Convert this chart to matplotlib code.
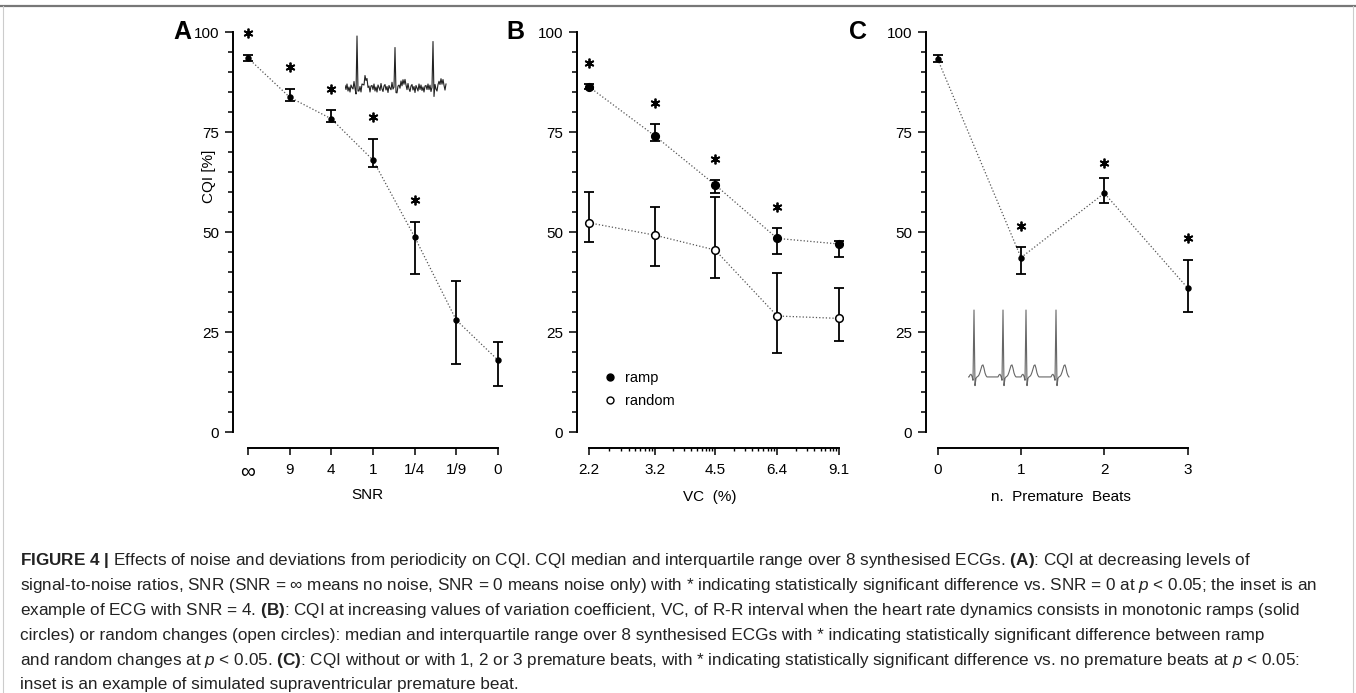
import numpy as np
import matplotlib
matplotlib.use("Agg")
import matplotlib.pyplot as plt
from matplotlib.lines import Line2D
from matplotlib.ticker import FixedLocator, MultipleLocator, NullFormatter

plt.rcParams["font.family"] = ["Liberation Sans", "DejaVu Sans"]
plt.rcParams["mathtext.fontset"] = "custom"
plt.rcParams["mathtext.rm"] = "Liberation Sans"
plt.rcParams["mathtext.bf"] = "Liberation Sans:bold"
plt.rcParams["mathtext.it"] = "Liberation Sans:italic"

# ── data (median, quartiles, asterisk height) ──────────────────────
snr_labels = ["∞", "9", "4", "1", "1/4", "1/9", "0"]
snr_med = [93.5, 83.7, 78.3, 68.0, 48.8, 28.0, 18.0]
snr_lo = [92.7, 82.8, 77.4, 66.3, 39.4, 16.9, 11.6]
snr_hi = [94.2, 85.7, 80.4, 73.3, 52.6, 37.8, 22.6]
snr_star = [99.7, 91.2, 85.7, 78.7, 58.0, np.nan, np.nan]

vc = [2.2, 3.2, 4.5, 6.4, 9.1]
vc_labels = ["2.2", "3.2", "4.5", "6.4", "9.1"]
ramp_med = [86.3, 74.0, 61.8, 48.4, 47.0]
ramp_lo = [85.7, 72.7, 59.8, 44.5, 43.8]
ramp_hi = [87.0, 76.9, 63.0, 50.9, 47.8]
random_med = [52.3, 49.2, 45.5, 29.0, 28.4]
random_lo = [47.4, 41.6, 38.4, 19.8, 22.8]
random_hi = [60.1, 56.3, 58.8, 39.8, 35.9]
vc_star = [92.2, 82.2, 68.3, 56.3, np.nan]

pb = [0, 1, 2, 3]
pb_labels = ["0", "1", "2", "3"]
pb_med = [93.2, 43.6, 59.7, 36.0]
pb_lo = [92.5, 39.5, 57.2, 30.0]
pb_hi = [94.2, 46.2, 63.4, 43.0]
pb_star = [np.nan, 51.5, 67.3, 48.5]

# inset ECG: one beat template (R wave at index 5), beat positions, noise
ecg_beat = [0, 0.03, 0.04, 0.01, -0.05, 1.0, -0.13, -0.02, 0, 0.01,
            0.03, 0.07, 0.12, 0.17, 0.18, 0.13, 0.06, 0.02, 0, 0]
ecg_a_r = [12, 50, 88]
ecg_a_amp = [1.0, 0.86, 0.92]
ecg_a_noise = [0.05, -0.03, 0.08, -0.06, 0.02, -0.08, 0.06, 0.01, -0.05,
               0.09, -0.02, -0.07, 0.04, 0.07, -0.04, 0.03, -0.09, 0.05,
               0.0, -0.06, 0.08, -0.03, 0.06, -0.05, 0.02, -0.08, 0.04]
ecg_c_r = [6, 35, 58, 88]
ecg_c_amp = [1.0, 1.0, 1.0, 1.0]

caption = [
    r"$\mathbf{FIGURE\ 4\ |}$ Effects of noise and deviations from periodicity on CQI. CQI median and interquartile range over 8 synthesised ECGs. $\mathbf{(A)}$: CQI at decreasing levels of",
    r"signal-to-noise ratios, SNR (SNR = ∞ means no noise, SNR = 0 means noise only) with * indicating statistically significant difference vs. SNR = 0 at $\mathit{p}$ < 0.05; the inset is an",
    r"example of ECG with SNR = 4. $\mathbf{(B)}$: CQI at increasing values of variation coefficient, VC, of R-R interval when the heart rate dynamics consists in monotonic ramps (solid",
    r"circles) or random changes (open circles): median and interquartile range over 8 synthesised ECGs with * indicating statistically significant difference between ramp",
    r"and random changes at $\mathit{p}$ < 0.05. $\mathbf{(C)}$: CQI without or with 1, 2 or 3 premature beats, with * indicating statistically significant difference vs. no premature beats at $\mathit{p}$ < 0.05:",
    r"inset is an example of simulated supraventricular premature beat.",
]

W, H = 1356, 693
fig = plt.figure(figsize=(W / 100, H / 100), dpi=100)


def px_axes(x0, y0, x1, y1):
    """axes from pixel box (y measured from top)."""
    return fig.add_axes([x0 / W, 1 - y1 / H, (x1 - x0) / W, (y1 - y0) / H])


def style(ax, xb):
    for s in ("top", "right"):
        ax.spines[s].set_visible(False)
    ax.spines["left"].set_linewidth(1.4)
    ax.spines["bottom"].set_linewidth(1.4)
    ax.spines["bottom"].set_position(("outward", 11.5))
    ax.spines["left"].set_bounds(0, 100)
    ax.spines["bottom"].set_bounds(*xb)
    ax.set_ylim(0, 100)
    ax.yaxis.set_major_locator(FixedLocator([0, 25, 50, 75, 100]))
    ax.yaxis.set_minor_locator(MultipleLocator(5))
    ax.tick_params(axis="y", which="major", length=6, width=1.1, labelsize=11, pad=4)
    ax.tick_params(axis="y", which="minor", length=3.6, width=1.1)
    ax.tick_params(axis="x", which="major", length=5, width=1.1, labelsize=11, pad=6)
    ax.tick_params(axis="x", which="minor", length=2.5, width=1.0)


def draw_series(ax, x, med, lo, hi, face, ms, ls=":"):
    med = np.array(med)
    yerr = [med - np.array(lo), np.array(hi) - med]
    ax.plot(x, med, linestyle=ls, color="#555555", linewidth=0.9, zorder=2)
    ax.errorbar(x, med, yerr=yerr, fmt="none", ecolor="black", elinewidth=1.3,
                capsize=3.6, capthick=1.3, zorder=3)
    ax.plot(x, med, "o", markerfacecolor=face, markeredgecolor="black",
            markeredgewidth=1.1, markersize=ms, linestyle="none", zorder=4)


def draw_stars(ax, x, ys):
    ax.plot(x, ys, linestyle="none", marker=(6, 2, 0), markersize=7,
            markeredgewidth=1.3, color="black", clip_on=False, zorder=5)


def ecg_trace(r_pos, amps, n):
    tr = np.zeros(n)
    beat = np.array(ecg_beat)
    for r, a in zip(r_pos, amps):
        i0 = r - 5
        seg = beat[: max(0, min(len(beat), n - i0))]
        tr[i0:i0 + len(seg)] += a * seg
    return tr


# ── Panel A ────────────────────────────────────────────────────────
axA = px_axes(233, 32, 502, 432)
xa = np.arange(len(snr_labels))
axA.set_xlim(-0.36, 6.1)
style(axA, (0, 6))
axA.set_xticks(xa)
axA.set_xticklabels(snr_labels)
axA.get_xticklabels()[0].set_fontsize(15)
draw_series(axA, xa, snr_med, snr_lo, snr_hi, "black", 3.5)
draw_stars(axA, xa, snr_star)
axA.set_ylabel("CQI [%]", fontsize=11)
axA.yaxis.set_label_coords(-0.065, 0.64)
axA.set_xlabel("SNR", fontsize=11, labelpad=4)

# ── Panel B ────────────────────────────────────────────────────────
axB = px_axes(577, 32, 843, 432)
axB.set_xscale("log")
axB.set_xlim(2.055, 9.3)
style(axB, (2.2, 9.1))
axB.xaxis.set_major_locator(FixedLocator(vc))
axB.set_xticklabels(vc_labels)
minor = []
for a, b in zip(vc[:-1], vc[1:]):
    minor += [a * (b / a) ** np.log10(k) for k in range(2, 10)]
axB.xaxis.set_minor_locator(FixedLocator(minor))
axB.xaxis.set_minor_formatter(NullFormatter())
draw_series(axB, vc, random_med, random_lo, random_hi, "white", 5.5)
draw_series(axB, vc, ramp_med, ramp_lo, ramp_hi, "black", 5.5)
draw_stars(axB, vc, vc_star)
axB.set_xlabel("VC  (%)", fontsize=11, labelpad=9)
handles = [
    Line2D([], [], marker="o", linestyle="none", markerfacecolor="black",
           markeredgecolor="black", markersize=5, label="ramp"),
    Line2D([], [], marker="o", linestyle="none", markerfacecolor="white",
           markeredgecolor="black", markersize=5, label="random"),
]
axB.legend(handles=handles, loc="upper left", bbox_to_anchor=(0.075, 0.17),
           frameon=False, fontsize=10.5, handlelength=0.8, handletextpad=0.6,
           labelspacing=0.6, borderpad=0)

# ── Panel C ────────────────────────────────────────────────────────
axC = px_axes(926, 32, 1196, 432)
axC.set_xlim(-0.14, 3.1)
style(axC, (0, 3))
axC.set_xticks(pb)
axC.set_xticklabels(pb_labels)
draw_series(axC, pb, pb_med, pb_lo, pb_hi, "black", 3.5)
draw_stars(axC, pb, pb_star)
axC.set_xlabel("n.  Premature  Beats", fontsize=11, labelpad=9)

# panel letters
for x, letter in [(182, "A"), (515, "B"), (858, "C")]:
    fig.text(x / W, 1 - 32 / H, letter, fontsize=18, fontweight="bold",
             ha="center", va="center")

# ── ECG insets ─────────────────────────────────────────────────────
insA = px_axes(345, 32, 447, 102)
trA = ecg_trace(ecg_a_r, ecg_a_amp, 102) + np.resize(ecg_a_noise, 102)
insA.plot(np.arange(102), trA, color="#222222", linewidth=0.8)
insA.set_xlim(0, 102)
insA.set_ylim(-0.28, 1.12)
insA.axis("off")

insC = px_axes(968, 300, 1070, 395)
trC = ecg_trace(ecg_c_r, ecg_c_amp, 102)
insC.plot(np.arange(102), trC, color="#666666", linewidth=0.8)
insC.set_xlim(0, 102)
insC.set_ylim(-0.27, 1.15)
insC.axis("off")

# ── frame and caption ──────────────────────────────────────────────
fig.add_artist(Line2D([0, 1], [1 - 6 / H, 1 - 6 / H], color="#777777", linewidth=1.6))
for xx in (3, W - 3):
    fig.add_artist(Line2D([xx / W, xx / W], [0, 1 - 6 / H], color="#cccccc", linewidth=0.8))

for i, line in enumerate(caption):
    fig.text(20 / W, 1 - (561 + i * 24.8) / H, line, fontsize=12.3,
             ha="left", va="center", color="#222222")

fig.savefig("out.png", dpi=100)
